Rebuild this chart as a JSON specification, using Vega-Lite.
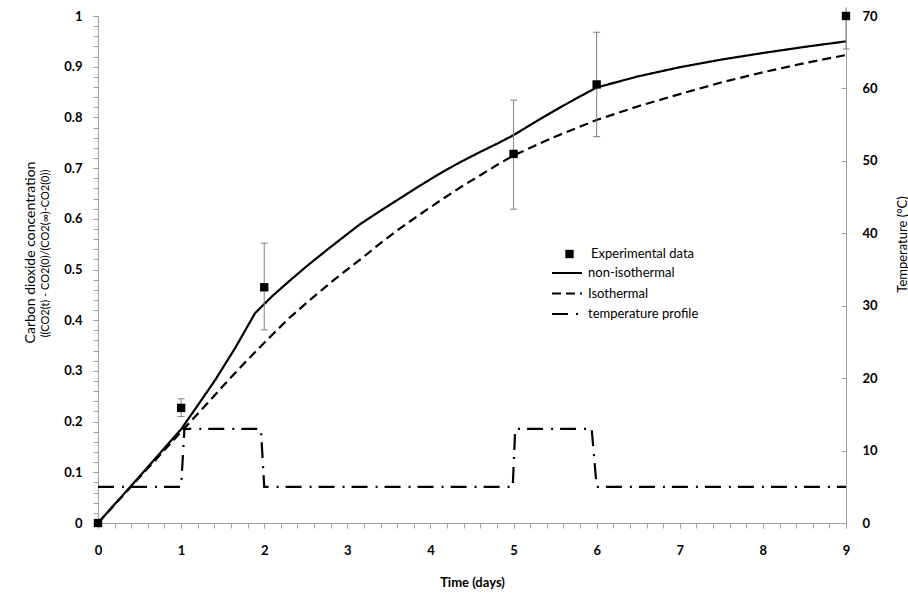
{
  "$schema": "https://vega.github.io/schema/vega-lite/v6.json",
  "width": 748,
  "height": 507,
  "autosize": "none",
  "padding": {"left": 98, "top": 16, "right": 62, "bottom": 73},
  "background": "white",
  "config": {
    "font": "Lato",
    "view": {"stroke": null},
    "axis": {
      "grid": false,
      "domainColor": "#a0a0a0",
      "tickColor": "#a0a0a0",
      "labelColor": "#000000",
      "titleColor": "#000000",
      "labelFont": "Lato",
      "titleFont": "Lato",
      "labelFontSize": 13,
      "labelFontWeight": "bold",
      "tickSize": 5,
      "labelFlush": false
    }
  },
  "datasets": {
    "curves": [
      {"day": 0, "value": 0, "series": "non-isothermal"},
      {"day": 0.5, "value": 0.092, "series": "non-isothermal"},
      {"day": 1.0, "value": 0.185, "series": "non-isothermal"},
      {"day": 1.2, "value": 0.232, "series": "non-isothermal"},
      {"day": 1.41, "value": 0.282, "series": "non-isothermal"},
      {"day": 1.65, "value": 0.345, "series": "non-isothermal"},
      {"day": 1.89, "value": 0.414, "series": "non-isothermal"},
      {"day": 2.1, "value": 0.448, "series": "non-isothermal"},
      {"day": 2.3, "value": 0.477, "series": "non-isothermal"},
      {"day": 2.5, "value": 0.505, "series": "non-isothermal"},
      {"day": 2.75, "value": 0.538, "series": "non-isothermal"},
      {"day": 3.0, "value": 0.570, "series": "non-isothermal"},
      {"day": 3.15, "value": 0.589, "series": "non-isothermal"},
      {"day": 3.4, "value": 0.616, "series": "non-isothermal"},
      {"day": 3.63, "value": 0.640, "series": "non-isothermal"},
      {"day": 3.85, "value": 0.663, "series": "non-isothermal"},
      {"day": 4.1, "value": 0.688, "series": "non-isothermal"},
      {"day": 4.35, "value": 0.711, "series": "non-isothermal"},
      {"day": 4.6, "value": 0.732, "series": "non-isothermal"},
      {"day": 4.8, "value": 0.748, "series": "non-isothermal"},
      {"day": 5.0, "value": 0.765, "series": "non-isothermal"},
      {"day": 5.25, "value": 0.790, "series": "non-isothermal"},
      {"day": 5.5, "value": 0.814, "series": "non-isothermal"},
      {"day": 5.75, "value": 0.837, "series": "non-isothermal"},
      {"day": 6.0, "value": 0.859, "series": "non-isothermal"},
      {"day": 6.5, "value": 0.881, "series": "non-isothermal"},
      {"day": 7.0, "value": 0.899, "series": "non-isothermal"},
      {"day": 7.5, "value": 0.914, "series": "non-isothermal"},
      {"day": 8.0, "value": 0.927, "series": "non-isothermal"},
      {"day": 8.5, "value": 0.939, "series": "non-isothermal"},
      {"day": 9.0, "value": 0.950, "series": "non-isothermal"},
      {"day": 0, "value": 0, "series": "Isothermal"},
      {"day": 0.5, "value": 0.09, "series": "Isothermal"},
      {"day": 1.0, "value": 0.18, "series": "Isothermal"},
      {"day": 1.3, "value": 0.233, "series": "Isothermal"},
      {"day": 1.57, "value": 0.282, "series": "Isothermal"},
      {"day": 1.8, "value": 0.322, "series": "Isothermal"},
      {"day": 2.07, "value": 0.367, "series": "Isothermal"},
      {"day": 2.3, "value": 0.404, "series": "Isothermal"},
      {"day": 2.55, "value": 0.44, "series": "Isothermal"},
      {"day": 2.85, "value": 0.481, "series": "Isothermal"},
      {"day": 3.15, "value": 0.519, "series": "Isothermal"},
      {"day": 3.4, "value": 0.552, "series": "Isothermal"},
      {"day": 3.59, "value": 0.576, "series": "Isothermal"},
      {"day": 3.85, "value": 0.606, "series": "Isothermal"},
      {"day": 4.1, "value": 0.634, "series": "Isothermal"},
      {"day": 4.35, "value": 0.661, "series": "Isothermal"},
      {"day": 4.6, "value": 0.686, "series": "Isothermal"},
      {"day": 4.8, "value": 0.706, "series": "Isothermal"},
      {"day": 5.0, "value": 0.725, "series": "Isothermal"},
      {"day": 5.5, "value": 0.762, "series": "Isothermal"},
      {"day": 6.0, "value": 0.795, "series": "Isothermal"},
      {"day": 6.5, "value": 0.822, "series": "Isothermal"},
      {"day": 7.0, "value": 0.846, "series": "Isothermal"},
      {"day": 7.5, "value": 0.869, "series": "Isothermal"},
      {"day": 8.0, "value": 0.889, "series": "Isothermal"},
      {"day": 8.5, "value": 0.907, "series": "Isothermal"},
      {"day": 9.0, "value": 0.923, "series": "Isothermal"}
    ],
    "exp": [
      {"day": 0, "value": 0, "lo": null, "hi": null, "hicap": null, "series": "Experimental data"},
      {"day": 1, "value": 0.227, "lo": 0.21, "hi": 0.245, "hicap": 0.245, "series": "Experimental data"},
      {"day": 2, "value": 0.465, "lo": 0.381, "hi": 0.552, "hicap": 0.552, "series": "Experimental data"},
      {"day": 5, "value": 0.728, "lo": 0.619, "hi": 0.834, "hicap": 0.834, "series": "Experimental data"},
      {"day": 6, "value": 0.865, "lo": 0.762, "hi": 0.968, "hicap": 0.968, "series": "Experimental data"},
      {"day": 9, "value": 1.0, "lo": 0.935, "hi": 1.017, "hicap": null, "series": "Experimental data"}
    ],
    "temp": [
      {"day": 0, "temp": 5, "series": "temperature profile"},
      {"day": 1.0, "temp": 5, "series": "temperature profile"},
      {"day": 1.04, "temp": 13, "series": "temperature profile"},
      {"day": 1.96, "temp": 13, "series": "temperature profile"},
      {"day": 2.0, "temp": 5, "series": "temperature profile"},
      {"day": 4.99, "temp": 5, "series": "temperature profile"},
      {"day": 5.02, "temp": 13, "series": "temperature profile"},
      {"day": 5.94, "temp": 13, "series": "temperature profile"},
      {"day": 6.0, "temp": 5, "series": "temperature profile"},
      {"day": 9.0, "temp": 5, "series": "temperature profile"}
    ]
  },
  "layer": [
    {
      "layer": [
        {
          "data": {"name": "curves"},
          "mark": {"type": "line", "color": "black", "strokeWidth": 2.2},
          "encoding": {
            "x": {
              "field": "day", "type": "quantitative",
              "scale": {"domain": [0, 9], "nice": false},
              "axis": {
                "values": [0, 1, 2, 3, 4, 5, 6, 7, 8, 9],
                "format": "d",
                "labelPadding": 16,
                "title": "Time (days)",
                "titleFontSize": 13,
                "titleFontWeight": "bold",
                "titleY": 59,
                "titleBaseline": "middle"
              }
            },
            "y": {
              "field": "value", "type": "quantitative",
              "scale": {"domain": [0, 1], "nice": false},
              "axis": {
                "values": [0, 0.1, 0.2, 0.3, 0.4, 0.5, 0.6, 0.7, 0.8, 0.9, 1],
                "format": "~g",
                "labelPadding": 11,
                "title": "((CO2(t) - CO2(0)/(CO2(∞)-CO2(0))",
                "titleFontSize": 11,
                "titleFontWeight": "normal",
                "titleX": -53,
                "titleY": 237,
                "titleBaseline": "middle"
              }
            },
            "strokeDash": {
              "field": "series", "type": "nominal",
              "scale": {
                "domain": ["non-isothermal", "Isothermal", "temperature profile"],
                "range": [[1, 0], [9, 5], [16, 8, 2, 7]]
              },
              "legend": {
                "orient": "none",
                "legendX": 462.5,
                "legendY": 250.5,
                "title": null,
                "padding": 0,
                "labelFont": "Lato",
                "labelFontSize": 13,
                "labelColor": "black",
                "symbolType": "M-3,0H3",
                "symbolSize": 100,
                "symbolStrokeWidth": 2.2,
                "symbolStrokeColor": "black",
                "symbolOpacity": 1,
                "labelOffset": 14.5,
                "rowPadding": 6.5
              }
            }
          }
        },
        {
          "data": {"name": "exp"},
          "mark": {"type": "rule", "color": "#808080", "strokeWidth": 1},
          "encoding": {
            "x": {"field": "day", "type": "quantitative"},
            "y": {"field": "lo", "type": "quantitative"},
            "y2": {"field": "hi"}
          }
        },
        {
          "data": {"name": "exp"},
          "mark": {"type": "tick", "orient": "horizontal", "color": "#808080", "size": 7, "thickness": 1, "opacity": 1},
          "encoding": {
            "x": {"field": "day", "type": "quantitative"},
            "y": {"field": "lo", "type": "quantitative"}
          }
        },
        {
          "data": {"name": "exp"},
          "mark": {"type": "tick", "orient": "horizontal", "color": "#808080", "size": 7, "thickness": 1, "opacity": 1},
          "encoding": {
            "x": {"field": "day", "type": "quantitative"},
            "y": {"field": "hicap", "type": "quantitative"}
          }
        },
        {
          "data": {"name": "exp"},
          "mark": {"type": "point", "filled": true, "color": "black", "opacity": 1, "size": 70},
          "encoding": {
            "x": {"field": "day", "type": "quantitative"},
            "y": {"field": "value", "type": "quantitative"},
            "shape": {
              "field": "series", "type": "nominal",
              "scale": {"domain": ["Experimental data"], "range": ["square"]},
              "legend": {
                "orient": "none",
                "legendX": 465,
                "legendY": 231.5,
                "title": null,
                "padding": 0,
                "labelFont": "Lato",
                "labelFontSize": 13,
                "labelColor": "black",
                "symbolSize": 70,
                "symbolFillColor": "black",
                "symbolOpacity": 1,
                "labelOffset": 15
              }
            }
          }
        }
      ]
    },
    {
      "data": {"name": "temp"},
      "mark": {"type": "line", "color": "black", "strokeWidth": 2.2},
      "encoding": {
        "x": {"field": "day", "type": "quantitative", "scale": {"domain": [0, 9], "nice": false}, "axis": null},
        "y": {
          "field": "temp", "type": "quantitative",
          "scale": {"domain": [0, 70], "nice": false},
          "axis": {
            "orient": "right",
            "values": [0, 10, 20, 30, 40, 50, 60, 70],
            "tickSize": -5,
            "labelPadding": 21,
            "title": "Temperature (°C)",
            "titleAngle": 270,
            "titleFontSize": 13,
            "titleFontWeight": "normal",
            "titleX": 56,
            "titleY": 228,
            "titleBaseline": "middle"
          }
        },
        "strokeDash": {"field": "series", "type": "nominal"}
      }
    },
    {
      "data": {"values": [{"day": 0, "v": 0}]},
      "mark": {"type": "point", "opacity": 0},
      "encoding": {
        "x": {
          "field": "day", "type": "quantitative",
          "scale": {"domain": [0, 9], "nice": false},
          "axis": {
            "orient": "bottom",
            "values": [0,0.2,0.4,0.6,0.8,1,1.2,1.4,1.6,1.8,2,2.2,2.4,2.6,2.8,3,3.2,3.4,3.6,3.8,4,4.2,4.4,4.6,4.8,5,5.2,5.4,5.6,5.8,6,6.2,6.4,6.6,6.8,7,7.2,7.4,7.6,7.8,8,8.2,8.4,8.6,8.8,9],
            "labels": false,
            "domain": false,
            "title": null
          }
        },
        "y": {
          "field": "v", "type": "quantitative",
          "scale": {"domain": [0, 1], "nice": false},
          "axis": {
            "orient": "left",
            "values": [0,0.02,0.04,0.06,0.08,0.1,0.12,0.14,0.16,0.18,0.2,0.22,0.24,0.26,0.28,0.3,0.32,0.34,0.36,0.38,0.4,0.42,0.44,0.46,0.48,0.5,0.52,0.54,0.56,0.58,0.6,0.62,0.64,0.66,0.68,0.7,0.72,0.74,0.76,0.78,0.8,0.82,0.84,0.86,0.88,0.9,0.92,0.94,0.96,0.98,1],
            "labels": false,
            "domain": false,
            "title": "Carbon dioxide concentration",
            "titleFontSize": 14,
            "titleFontWeight": "normal",
            "titleX": -68,
            "titleY": 236,
            "titleBaseline": "middle"
          }
        }
      }
    }
  ],
  "resolve": {"scale": {"x": "independent", "y": "independent"}}
}
